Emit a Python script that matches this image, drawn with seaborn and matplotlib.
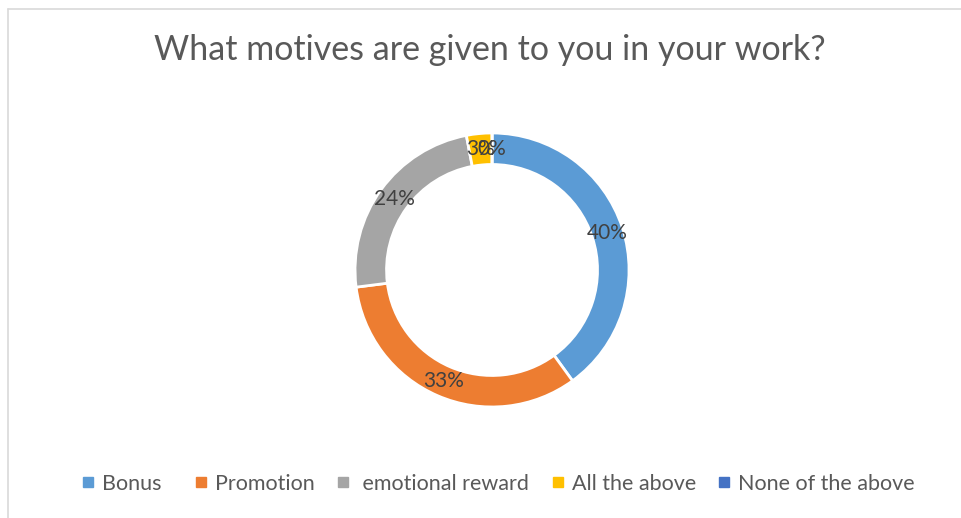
import seaborn as sns
import matplotlib.pyplot as plt
from matplotlib.lines import Line2D

sns.set_theme(style='white')
plt.rcParams['font.family'] = ['Lato', 'DejaVu Sans']

# Data
categories = ['Bonus  ', 'Promotion', ' emotional reward', 'All the above', 'None of the above']
shares = [40, 33, 24, 3, 0]
colors = ['#5B9BD5', '#ED7D31', '#A5A5A5', '#FFC000', '#4472C4']
title = 'What motives are given to you in your work?'

fig = plt.figure(figsize=(9.61, 5.18), dpi=100)

# donut axes centred on the ring position of the original
ax = fig.add_axes([0.3338, 0.1482, 0.3564, 0.6612])
wedges, texts, autotexts = ax.pie(
    shares,
    colors=colors,
    startangle=90,
    counterclock=False,
    autopct='%1.0f%%',
    pctdistance=0.885,
    wedgeprops=dict(width=0.23, edgecolor='white', linewidth=2),
    textprops=dict(color='#404040', fontsize=15),
)
ax.set_aspect('equal')

fig.text(0.51, 0.9035, title, ha='center', va='center', fontsize=24.5, color='#595959')

handles = [Line2D([], [], marker='s', linestyle='none', markersize=7,
                  markerfacecolor=c, markeredgecolor=c) for c in colors]
leg = fig.legend(handles, categories, loc='center', bbox_to_anchor=(0.518, 0.0656),
                 ncol=5, frameon=False, fontsize=15.5, handletextpad=0.3,
                 columnspacing=0.97, handlelength=0.7)
for t in leg.get_texts():
    t.set_color('#595959')

# light frame around the chart area
fig.add_artist(Line2D([8 / 961, 1], [1 - 9 / 518, 1 - 9 / 518], color='#d9d9d9', lw=1.2,
                      transform=fig.transFigure))
fig.add_artist(Line2D([8 / 961, 8 / 961], [0, 1 - 9 / 518], color='#d9d9d9', lw=1.2,
                      transform=fig.transFigure))

plt.savefig('out.png', dpi=100)
